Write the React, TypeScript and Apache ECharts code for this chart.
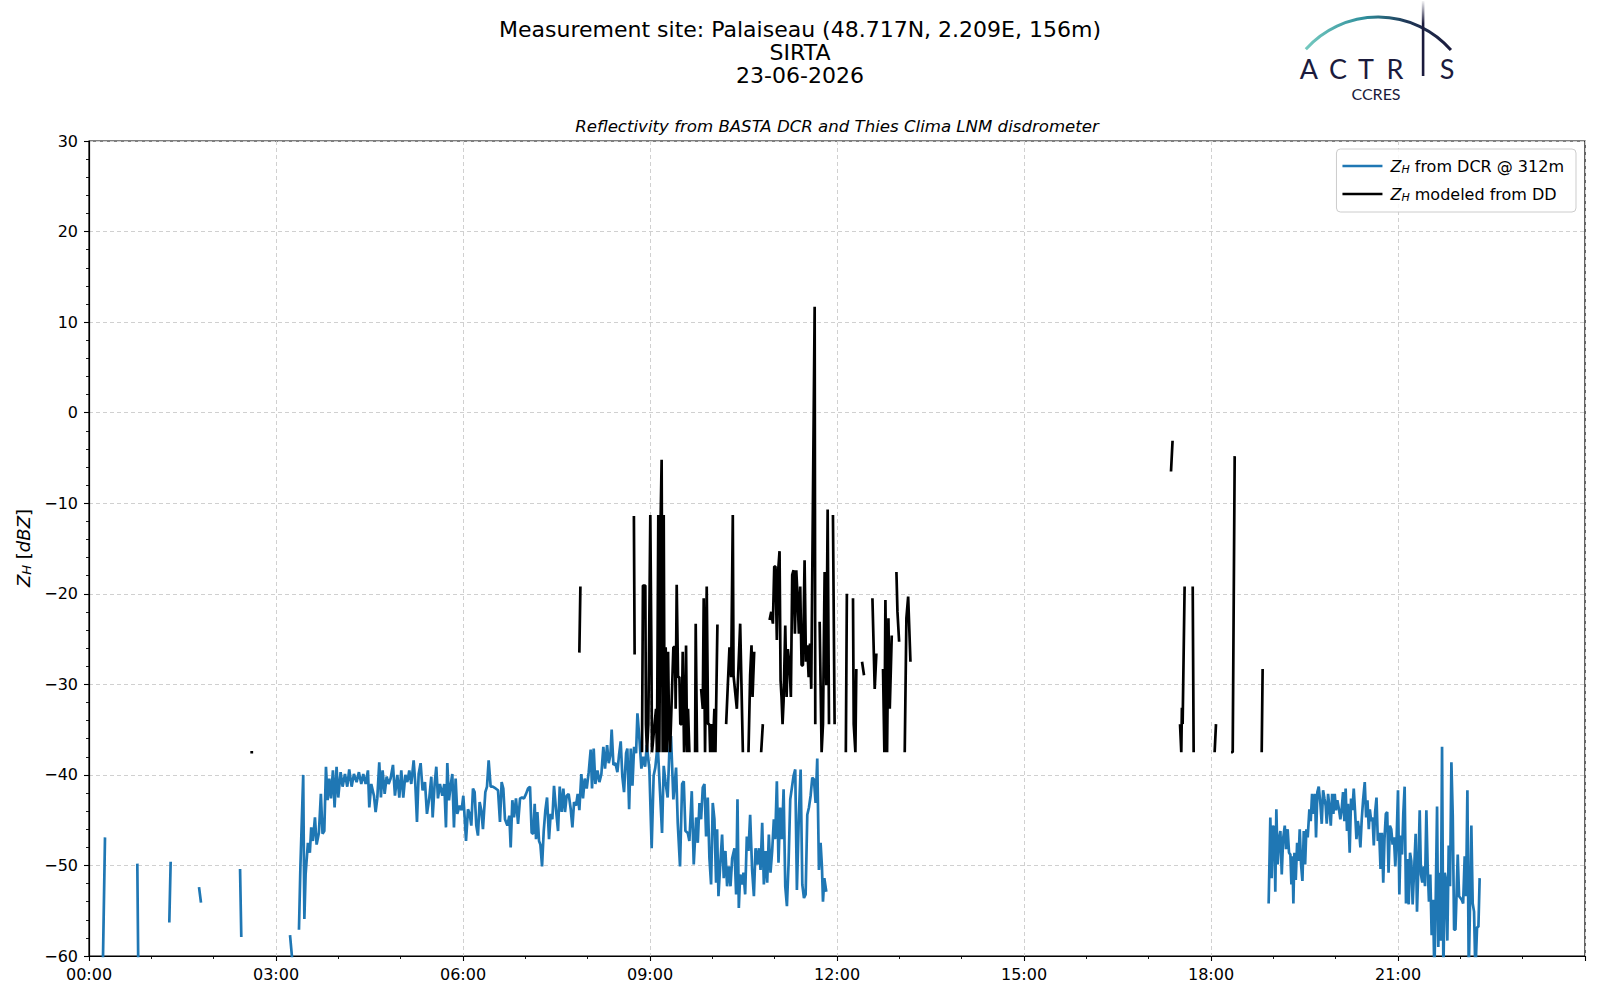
import React, { useEffect, useRef } from "react";
import * as echarts from "echarts";

// ---- data (time in minutes after 00:00 UTC, reflectivity in dBZ) ----
const xTickHours = [0, 3, 6, 9, 12, 15, 18, 21];
const yTicks = [-60, -50, -40, -30, -20, -10, 0, 10, 20, 30];

const blueNightSegments: [number, number][][] = [
  [[13.2, -62], [15.4, -46.9]],
  [[46.5, -49.8], [47.5, -62]],
  [[77.3, -56.3], [78.6, -49.6]],
  [[105.9, -52.4], [107.8, -54.1]],
  [[145.4, -50.4], [146.6, -57.9]],
  [[193.5, -57.7], [195.7, -60.5]],
];

const blueMorning: [number, number][] = [
  [202.1, -57.1], [203.5, -50.1], [206.2, -40.0], [207.3, -55.9], [208.5, -51.0], [210.7, -47.5],
  [212.6, -48.6], [213.9, -45.8], [215.5, -47.3], [217.5, -44.7], [219.1, -47.7], [221.3, -46.4],
  [223.2, -42.1], [224.8, -46.5], [226.5, -46.2], [228.1, -39.1], [229.7, -42.8], [231.3, -40.4],
  [232.9, -42.6], [234.8, -39.5], [236.4, -43.6], [238.3, -39.1], [239.9, -42.5], [242.2, -39.7],
  [244.1, -41.3], [246.4, -39.9], [248.6, -41.3], [250.5, -39.4], [252.8, -41.3], [255, -39.9],
  [257.6, -40.8], [259.8, -39.7], [262.1, -41], [264, -39.9], [266.3, -41], [268.5, -39.5],
  [269.8, -43.6], [271.7, -41], [274.3, -42.3], [275.9, -44.1], [277.5, -42.6], [279.4, -38.6],
  [281, -42.5], [282.6, -39.5], [284.6, -42.1], [286.5, -40.2], [288.4, -41], [290.3, -40.4],
  [292.6, -38.9], [294.5, -42.3], [296.8, -40], [298.7, -42.5], [300.6, -39.5], [302.5, -42.5],
  [304.5, -40], [306.4, -40.8], [308.3, -39.5], [310.2, -41], [312.5, -38.4], [314.1, -41],
  [315.7, -45.2], [317.3, -39.9], [319.2, -38.7], [321.1, -41.7], [323.4, -40.8], [325.3, -44.3],
  [327.6, -42.5], [329.5, -40.2], [330.8, -44.7], [332.7, -41], [334.3, -39.1], [335.9, -42.6],
  [337.8, -41], [340.1, -42.3], [342, -41], [343.6, -45.8], [344.9, -38.7], [346.5, -42.8],
  [348.1, -41.2], [349.7, -39.9], [351.3, -45.8], [352.9, -40.4], [354.5, -44.3], [356.8, -43.4],
  [358.7, -43.9], [360.3, -42.3], [361.6, -44.7], [362.9, -47.3], [364.8, -43.8], [366.4, -44.3],
  [368, -45.6], [369.6, -41.5], [371.2, -41.9], [372.8, -45.6], [374.4, -46.7], [376, -43],
  [377.6, -43.9], [379.2, -46], [381.5, -41.9], [383.1, -41.3], [384.7, -38.4], [386.6, -41.3],
  [388.6, -41.3], [391.4, -41.5], [393.7, -41.7], [395.6, -45.2], [397.2, -40.8], [398.8, -41.5],
  [400.4, -44.9], [402.7, -45.6], [404.6, -44.5], [405.9, -48], [407.5, -42.8], [409.1, -44.7],
  [411, -42.6], [413, -45.4], [414.9, -42.6], [416.8, -42.5], [418.7, -42.6], [420.7, -42.1],
  [422.6, -41.5], [424.5, -41.3], [426.1, -46.4], [427.7, -46.5], [429, -43.2], [430.3, -47.1],
  [431.6, -44.1], [433.2, -47.3], [434.5, -47.7], [436.1, -50.1], [437.7, -46.2], [439.3, -43.9],
  [440.9, -42.5], [442.8, -47.1], [444.4, -44.3], [446, -44.9], [447.6, -41.2], [449.5, -43.8],
  [451.5, -46.2], [453.1, -41.3], [455, -44.1], [456.6, -41.5], [458.2, -44.1], [459.8, -42.3],
  [461.7, -42.1], [463.7, -43.8], [465.3, -45.8], [466.9, -43], [468.8, -43.4], [470.4, -42.1],
  [472, -43.9], [473.9, -39.9], [475.5, -42.6], [477.2, -40.4], [479.1, -41.5], [481, -39.7],
  [482.9, -37.2], [484.2, -41.5], [485.8, -37.1], [487.4, -41], [489.4, -39.5], [491.3, -40.8],
  [493.2, -39.9], [495.1, -36.9], [496.7, -39.3], [498.7, -36.7], [500.3, -38.7], [501.9, -37.8],
  [503.1, -35], [504.8, -38.9], [506.7, -38.7], [508.6, -39.7], [510.2, -37.8], [511.8, -36.3],
  [513.4, -40.2], [515, -41.9], [517, -37.6], [518.2, -37.1], [519.9, -43.8], [521.5, -37.1],
  [523.1, -41.2], [524.7, -36.9], [526.6, -37.6], [527.9, -33.2], [529.8, -36], [531.7, -39.3],
  [533.6, -38], [535.3, -39.1], [536.9, -36.7], [539.4, -39.4], [541.6, -48.1], [543.5, -40.1],
  [545.1, -39.2], [547.4, -36.6], [549.6, -41.8], [551.6, -46.4], [553.2, -39.0], [554.8, -40.7],
  [557.0, -42.5], [558.6, -37.5], [560.2, -35.7], [562.5, -42.7], [565.1, -39.2], [566.7, -45.3],
  [568.9, -50.1], [570.9, -41.0], [572.5, -40.7], [574.1, -46.2], [576.3, -46.4], [577.9, -47.3],
  [580.2, -41.8], [582.1, -49.9], [584.4, -44.7], [586.0, -47.5], [587.6, -43.1], [589.2, -44.9],
  [590.8, -41.4], [592.4, -41.0], [594.0, -46.8], [595.6, -42.5], [597.2, -49.2], [598.8, -52.1],
  [600.4, -43.1], [602.0, -44.9], [603.6, -51.9], [604.6, -46.0], [605.9, -53.4], [607.5, -50.1],
  [609.4, -46.6], [611.0, -51.4], [612.6, -48.4], [614.2, -52.3], [615.9, -50.1], [617.5, -52.3],
  [619.1, -49.2], [621.3, -48.1], [622.9, -53.2], [624.2, -42.7], [625.5, -54.7], [626.8, -51.0],
  [628.4, -52.1], [630.0, -50.8], [631.6, -53.2], [633.2, -46.8], [634.8, -48.4], [636.4, -44.4],
  [638.3, -50.5], [640.0, -53.4], [641.6, -48.1], [643.2, -49.9], [644.8, -48.1], [646.4, -50.5],
  [648.0, -45.3], [649.6, -52.1], [651.2, -48.4], [652.8, -51.9], [654.4, -46.6], [656.0, -50.8],
  [657.6, -48.4], [659.2, -44.9], [660.5, -47.1], [662.1, -40.7], [663.7, -49.7], [665.3, -43.6],
  [667.0, -47.1], [668.6, -41.6], [670.2, -52.3], [671.8, -54.5], [673.4, -49.7], [675.0, -42.7],
  [676.6, -41.4], [678.2, -40.1], [679.8, -39.4], [681.4, -52.7], [683.3, -44.4], [685.0, -39.4],
  [686.6, -52.1], [688.2, -53.6], [689.8, -53.2], [691.4, -44.4], [693.0, -43.6], [694.6, -42.3],
  [696.2, -40.3], [697.8, -40.5], [699.4, -43.1], [701.0, -38.2], [702.6, -50.5], [704.2, -47.5],
  [705.5, -50.1], [706.5, -54.0], [707.8, -51.4], [709.7, -52.9],
];

const blueEvening: [number, number][] = [
  [1135.5, -54.2], [1137.1, -44.7], [1138.4, -51.4], [1139.7, -45.6], [1141, -46.0], [1141.9, -52.9],
  [1142.9, -43.8], [1144.2, -49.9], [1145.5, -47.1], [1146.8, -46.2], [1148.1, -51.0], [1149.4, -47.1],
  [1151, -45.6], [1152.2, -48.2], [1153.8, -46.0], [1155.1, -48.6], [1156.4, -48.8], [1157.4, -52.1],
  [1158.4, -49.0], [1159.3, -54.2], [1160.3, -48.6], [1161.6, -51.6], [1162.9, -47.5], [1164.2, -49.5],
  [1165.4, -46.0], [1166.7, -49.9], [1168, -51.7], [1169.3, -46.2], [1170.6, -49.9], [1171.8, -46.0],
  [1173.1, -46.9], [1174.7, -43.8], [1176, -45.1], [1177.3, -42.1], [1178.9, -44.3], [1180.1, -42.1],
  [1181.1, -46.9], [1182.4, -41.9], [1183.7, -41.3], [1185.3, -43.2], [1186.6, -45.4], [1187.9, -41.7],
  [1189.2, -42.6], [1190.4, -43.4], [1191.4, -45.4], [1192.7, -42.1], [1194, -43.6], [1195.3, -45.6],
  [1196.6, -42.1], [1197.8, -44.3], [1199.1, -42.1], [1200.3, -43.9], [1201.6, -42.8], [1203.2, -43.8],
  [1204.5, -44.9], [1205.8, -43.8], [1207.1, -41.9], [1208.4, -45.1], [1209.6, -41.5], [1210.9, -46.2],
  [1211.9, -43.2], [1213.5, -48.6], [1214.8, -42.6], [1216.1, -43.9], [1217.4, -41.5], [1218.7, -44.1],
  [1220, -47.1], [1221.3, -45.1], [1222.5, -46.0], [1223.8, -48.0], [1225.1, -44.9], [1226.4, -42.8],
  [1228, -40.8], [1229.3, -44.7], [1230.6, -42.8], [1231.9, -46.0], [1232.9, -43.8], [1234.2, -45.1],
  [1235.5, -44.7], [1236.7, -47.8], [1238, -44.1], [1239.3, -42.5], [1240.6, -47.3], [1241.9, -46.4],
  [1243.2, -50.4], [1244.5, -46.4], [1245.8, -51.9], [1247, -47.1], [1248.3, -44.3], [1249.6, -44.1],
  [1250.9, -50.8], [1252.2, -45.6], [1253.5, -46.0], [1254.8, -47.7], [1256.1, -46.9], [1257.4, -50.1],
  [1258.6, -47.3], [1260, -41.7], [1261.3, -53.2], [1262.6, -46.7], [1263.9, -48.8], [1265.1, -44.3],
  [1266.4, -41.3], [1267.7, -54.2], [1269, -49.3], [1270.3, -54.3], [1271.6, -48.6], [1272.8, -49.5],
  [1274.1, -54.3], [1275.4, -50.8], [1277, -46.5], [1278.3, -55.1], [1279.6, -50.1], [1280.9, -43.9],
  [1282.1, -51.0], [1283.4, -51.9], [1284.7, -50.1], [1286, -52.3], [1287.3, -43.9], [1288.6, -50.3],
  [1289.8, -54.0], [1291.1, -51.0], [1292.4, -57.7], [1293.7, -53.8], [1295, -62], [1296.3, -53.8],
  [1297.6, -43.5], [1298.8, -59.0], [1300.1, -50.8], [1301.1, -58.3], [1302.4, -36.9], [1303.7, -62],
  [1305, -50.8], [1306.2, -51.6], [1307.5, -58.3], [1308.8, -47.8], [1310.1, -52.3], [1311.4, -38.6],
  [1312.7, -44.5], [1314, -57.1], [1315.3, -57.1], [1316.2, -53.8], [1317.5, -48.8], [1318.8, -53.4],
  [1320.1, -53.6], [1321.4, -53.8], [1322.7, -54.2], [1324.2, -49.0], [1325.5, -53.4], [1326.8, -41.7],
  [1328.1, -62], [1329.4, -53.8], [1330.6, -45.6], [1331.9, -54.2], [1333.2, -55.1], [1334.5, -62],
  [1336.1, -56.8], [1337.4, -56.8], [1338.6, -51.4],
];

const blackSegments: [number, number][][] = [
  [[155.3, -37.5], [158, -37.5]],
  [[472, -26.5], [473, -19.2]],
  [[524.5, -11.4], [525.2, -26.7]],
  [
    [532.3, -37.5], [533.2, -19.1], [535.5, -19.1], [536.1, -34.4], [537.1, -37.5], [538.4, -34.4],
    [540.3, -11.3], [541.3, -25.7], [541.9, -37.5], [545.8, -32.7], [546.7, -37.5], [548, -11.3],
    [549, -37.5], [550.3, -11.3], [551.2, -5.2], [552.2, -37.5], [553.2, -11.3], [554.1, -37.5],
    [555.1, -25.9], [556.1, -37.5], [557.4, -26.4], [558.3, -34.4], [559.3, -37.5], [562.5, -25.9],
    [564.1, -25.9], [564.7, -32.7], [565.7, -19.0], [567, -29.2], [568.3, -29.2], [569.2, -34.4],
    [570.5, -34.4], [571.5, -26.4], [572.8, -37.5], [574.1, -32.7], [574.7, -25.7], [575.7, -37.5],
    [576.6, -32.7], [577.9, -37.5],
  ],
  [[583.4, -37.5], [584, -23.3], [585.3, -37.5]],
  [
    [589.2, -30.5], [590.8, -32.7], [591.7, -20.5], [593, -37.5], [594.6, -19.2], [595.9, -34.4],
    [597.2, -34.4], [597.9, -37.5], [599.1, -34.4], [600.4, -37.5], [602, -32.7], [603, -37.5],
    [604.9, -23.4],
  ],
  [
    [613.3, -34.4], [614.9, -30.1], [616.5, -25.9], [618.1, -29.2], [619.7, -11.3], [620.4, -29],
    [623.6, -32.7], [626.8, -23.3], [629.4, -37.5],
  ],
  [[634.8, -37.5], [636.4, -29], [637.7, -25.7], [638.7, -31.4], [640.3, -26.4]],
  [[647, -37.5], [648.6, -34.4]],
  [
    [655.1, -22.9], [656.7, -22], [658.3, -23.3], [659.6, -17], [660.8, -17], [662.1, -25.1],
    [663.4, -17.4], [664.7, -15.3], [665.7, -29.6], [666.6, -31.4], [667.6, -34.4], [668.6, -31.8],
    [670.2, -23.5], [671.5, -31.4], [672.7, -26.1], [674.3, -27.9], [675.6, -31.4], [676.9, -17.9],
    [678.2, -17.4], [679.5, -24.4], [680.8, -17.4], [682.1, -20.5], [683.3, -24.4], [684.6, -19.2],
    [685.9, -27.9], [687.2, -27.9], [688.8, -16.3], [690.1, -27.5], [691.4, -25.7], [692.7, -29.2],
    [694, -25.5], [695.2, -30.5], [698.5, 11.7], [699.1, -34.4],
  ],
  [[703.3, -23.1], [705.2, -37.5], [706.5, -34.4], [708.1, -17.6], [709.7, -30.1], [711, -10.7], [712.3, -34.4]],
  [[716.1, -11.3], [717.7, -34.4]],
  [[728.5, -37.5], [729.5, -20]],
  [[735.4, -20.5], [736.1, -34.4], [737.7, -37.5], [738.6, -28.3]],
  [[744.1, -27.5], [746, -29]],
  [[754.1, -20.5], [756.3, -30.5], [757.9, -26.6]],
  [[764.3, -28.3], [765.6, -37.5], [766.6, -20.7], [768.2, -37.5], [769.5, -22.7], [770.8, -32.7], [772.7, -24.6]],
  [[777.2, -17.6], [778.2, -22], [779.8, -25.3]],
  [[785.2, -37.5], [786.8, -22.7], [788.5, -20.3], [790.7, -27.5]],
  [[1041.5, -6.5], [1043, -3.1]],
  [[1050.2, -34.4], [1051.4, -37.5], [1052, -32.6], [1052.7, -34.4], [1054.6, -19.2]],
  [[1062.4, -19.2], [1063.3, -37.5]],
  [[1083.5, -37.5], [1084.8, -34.4]],
  [[1099.3, -37.5], [1100.9, -37.5], [1102.8, -4.8]],
  [[1128.8, -37.5], [1129.7, -28.3]],
];

const titleLines = ["Measurement site: Palaiseau (48.717N, 2.209E, 156m)", "SIRTA", "23-06-2026"];
const subtitle = "Reflectivity from BASTA DCR and Thies Clima LNM disdrometer";
const seriesNames = ["DCR", "DD"];
const legendLabels = ["{z|Z}{h|H} from DCR @ 312m", "{z|Z}{h|H} modeled from DD"];
const logoLetters = ["A", "C", "T", "R", "S"];

const FONT = "DejaVu Sans";
const NAVY = "#1b1b3d";
const LINE_W = 2.7;

function joinSegments(segs: [number, number][][]): (number | null)[][] {
  const out: (number | null)[][] = [];
  segs.forEach((s, i) => {
    if (i > 0) out.push([s[0][0] - 0.05, null]);
    s.forEach((p) => out.push([p[0], p[1]]));
  });
  return out;
}

const pad2 = (n: number) => String(n).padStart(2, "0");
const centered = { align: "center", verticalAlign: "middle", textAlign: "center", textVerticalAlign: "middle" };

export default function App() {
  const ref = useRef<HTMLDivElement>(null);
  useEffect(() => {
    if (!ref.current) return;
    const chart = echarts.init(ref.current, undefined, { renderer: "svg" });
    const blueData = joinSegments([...blueNightSegments, blueMorning, blueEvening]);
    const blackData = joinSegments(blackSegments);
    const richSub = {
      z: { fontStyle: "italic", fontSize: 16, fontFamily: FONT, color: "#000" },
      h: { fontStyle: "italic", fontSize: 11, fontFamily: FONT, color: "#000", verticalAlign: "bottom", padding: [7, 0, 0, 0] },
    };
    chart.setOption({
      animation: false,
      backgroundColor: "#ffffff",
      grid: { left: 89, right: 15, top: 141, bottom: 44, show: true, borderColor: "#000", borderWidth: 1.2, backgroundColor: "transparent" },
      xAxis: {
        type: "value",
        min: 0,
        max: 1440,
        interval: 180,
        axisLine: { show: true, onZero: false, lineStyle: { color: "#000", width: 1.2 } },
        axisTick: { show: true, length: 5, lineStyle: { color: "#000", width: 1.1 } },
        minorTick: { show: true, splitNumber: 3, length: 3, lineStyle: { color: "#000", width: 0.9 } },
        axisLabel: {
          color: "#000",
          fontSize: 16,
          fontFamily: FONT,
          margin: 10,
          formatter: (v: number) => (xTickHours.includes(v / 60) ? `${pad2(v / 60)}:00` : ""),
        },
        splitLine: { show: true, lineStyle: { color: "#d0d0d0", type: [4, 3], width: 1 } },
      },
      yAxis: {
        type: "value",
        min: -60,
        max: 30,
        interval: 10,
        axisLine: { show: true, onZero: false, lineStyle: { color: "#000", width: 1.2 } },
        axisTick: { show: true, length: 5, lineStyle: { color: "#000", width: 1.1 } },
        minorTick: { show: true, splitNumber: 5, length: 3, lineStyle: { color: "#000", width: 0.9 } },
        axisLabel: {
          color: "#000",
          fontSize: 16,
          fontFamily: FONT,
          margin: 11,
          formatter: (v: number) => (yTicks.includes(v) ? (v < 0 ? "\u2212" + Math.abs(v) : String(v)) : ""),
        },
        splitLine: { show: true, lineStyle: { color: "#d0d0d0", type: [4, 3], width: 1 } },
      },
      legend: {
        show: true,
        orient: "vertical",
        right: 24,
        top: 149,
        align: "left",
        icon: "rect",
        itemWidth: 40,
        itemHeight: LINE_W,
        itemGap: 11,
        padding: [9, 12, 9, 6],
        backgroundColor: "rgba(255,255,255,0.85)",
        borderColor: "#cccccc",
        borderWidth: 1,
        borderRadius: 4,
        data: seriesNames,
        formatter: (name: string) => legendLabels[seriesNames.indexOf(name)],
        textStyle: { color: "#000", fontSize: 16, fontFamily: FONT, padding: [0, 0, 0, 3], rich: richSub },
      },
      graphic: [
        ...titleLines.map((t, i) => ({
          type: "text",
          x: 800,
          y: 29 + i * 23,
          style: { text: t, fontSize: 22, fontFamily: FONT, fill: "#000", ...centered },
        })),
        {
          type: "text",
          x: 837,
          y: 126,
          style: { text: subtitle, fontSize: 16.6, fontStyle: "italic", fontFamily: FONT, fill: "#000", ...centered },
        },
        {
          type: "text",
          x: 23,
          y: 548,
          rotation: Math.PI / 2,
          style: {
            text: "{z|Z}{h|H} [{d|dBZ}]",
            fontSize: 18,
            fontFamily: FONT,
            fill: "#000",
            ...centered,
            rich: {
              z: { fontStyle: "italic", fontSize: 18, fontFamily: FONT, fill: "#000" },
              h: { fontStyle: "italic", fontSize: 13, fontFamily: FONT, fill: "#000", verticalAlign: "bottom", padding: [7, 0, 0, 0] },
              d: { fontStyle: "italic", fontSize: 18, fontFamily: FONT, fill: "#000" },
            },
          },
        },
        // ACTRIS logo
        {
          type: "arc",
          shape: { cx: 1378, cy: 114, r: 97, startAngle: -2.41, endAngle: -0.72, clockwise: true },
          style: {
            fill: "none",
            lineWidth: 3,
            stroke: new echarts.graphic.LinearGradient(0, 0, 1, 0, [
              { offset: 0, color: "#74c9bf" },
              { offset: 0.4, color: "#2f8f9c" },
              { offset: 0.7, color: "#1f3656" },
              { offset: 1, color: NAVY },
            ]),
          },
        },
        {
          type: "rect",
          shape: { x: 1421.8, y: 1, width: 2.6, height: 75 },
          style: {
            fill: new echarts.graphic.LinearGradient(0, 0, 0, 1, [
              { offset: 0, color: "rgba(27,27,61,0.05)" },
              { offset: 0.3, color: NAVY },
              { offset: 1, color: NAVY },
            ]),
          },
        },
        ...logoLetters.map((ch, i) => ({
          type: "text",
          x: [1309, 1338, 1366, 1395, 1447][i],
          y: 68,
          style: { text: ch, fontSize: 27, fontFamily: "Lato", fill: NAVY, ...centered },
        })),
        {
          type: "text",
          x: 1376,
          y: 93,
          style: { text: "CCRES", fontSize: 16, fontFamily: "Lato", fill: NAVY, ...centered },
        },
      ],
      series: [
        {
          name: seriesNames[0],
          type: "line",
          data: blueData,
          showSymbol: false,
          symbol: "none",
          connectNulls: false,
          clip: true,
          lineStyle: { color: "#1f77b4", width: LINE_W },
          itemStyle: { color: "#1f77b4" },
          z: 3,
        },
        {
          name: seriesNames[1],
          type: "line",
          data: blackData,
          showSymbol: false,
          symbol: "none",
          connectNulls: false,
          clip: true,
          lineStyle: { color: "#000000", width: LINE_W },
          itemStyle: { color: "#000000" },
          z: 4,
        },
      ],
    });
    return () => chart.dispose();
  }, []);
  return <div ref={ref} style={{ position: "absolute", left: 0, top: 0, width: 1600, height: 1000 }} />;
}
